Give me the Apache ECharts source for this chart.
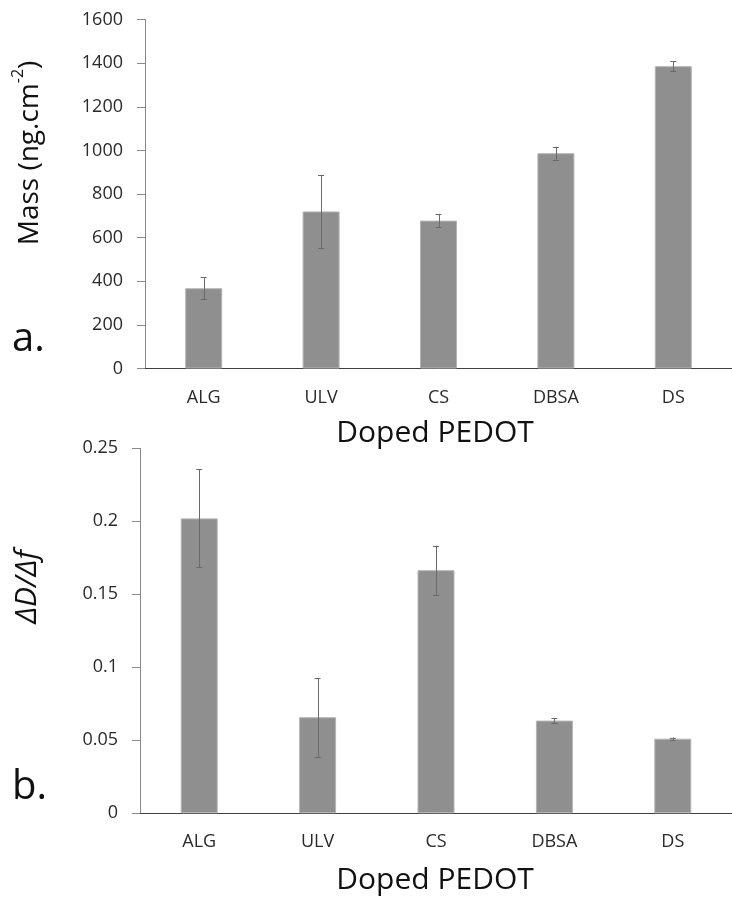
<!DOCTYPE html>
<html>
<head>
<meta charset="utf-8">
<script src="https://cdn.jsdelivr.net/npm/echarts@6/dist/echarts.min.js"></script>
<style>html,body{margin:0;padding:0;background:#fff;}#c{width:732px;height:897px;}</style>
</head>
<body>
<div id="c"></div>
<script>
const categories = ['ALG', 'ULV', 'CS', 'DBSA', 'DS'];
const massValues = [368, 720, 678, 987, 1386];
const massErrors = [50, 168, 31, 30, 22];
const ratioValues = [0.202, 0.0658, 0.1665, 0.0635, 0.0511];
const ratioErrors = [0.0335, 0.027, 0.0168, 0.0018, 0.0008];
const massAxis = { min: 0, max: 1600, interval: 200 };
const ratioAxis = { min: 0, max: 0.25, interval: 0.05 };

const FONT = '"Open Sans", "Noto Sans", sans-serif';
const chart = echarts.init(document.getElementById('c'), null, { renderer: 'canvas' });

function errData(vals, errs) {
  return vals.map((v, i) => [i, v - errs[i], v + errs[i]]);
}
function errRender(params, api) {
  const x = api.value(0);
  const lo = api.coord([x, api.value(1)]);
  const hi = api.coord([x, api.value(2)]);
  const cap = 3;
  const style = { stroke: '#6a6a6a', lineWidth: 1 };
  return {
    type: 'group',
    children: [
      { type: 'line', shape: { x1: Math.round(hi[0]) + 0.5, y1: hi[1], x2: Math.round(lo[0]) + 0.5, y2: lo[1] }, style },
      { type: 'line', shape: { x1: hi[0] - cap, y1: Math.round(hi[1]) + 0.5, x2: hi[0] + cap, y2: Math.round(hi[1]) + 0.5 }, style },
      { type: 'line', shape: { x1: lo[0] - cap, y1: Math.round(lo[1]) + 0.5, x2: lo[0] + cap, y2: Math.round(lo[1]) + 0.5 }, style }
    ]
  };
}

const xAxisCommon = {
  type: 'category',
  data: categories,
  axisLine: { lineStyle: { color: '#404040', width: 1 } },
  axisTick: { show: false },
  axisLabel: { fontFamily: FONT, fontSize: 18, color: '#2a2a2a', margin: 20 }
};
const yAxisCommon = {
  type: 'value',
  axisLine: { show: true, lineStyle: { color: '#8a8a8a', width: 1 } },
  axisTick: { show: true, length: 8, lineStyle: { color: '#8a8a8a' } },
  splitLine: { show: false },
  axisLabel: { fontFamily: FONT, fontSize: 18, color: '#2a2a2a', margin: 22, formatter: v => String(v) }
};
const barStyle = { color: '#8f8f8f', borderColor: '#b4b4b4', borderWidth: 1 };

chart.setOption({
  animation: false,
  backgroundColor: '#ffffff',
  grid: [
    { left: 145, right: -9.5, top: 19.5, bottom: 528.5 },
    { left: 140, right: -9, top: 448.3, bottom: 83.7 }
  ],
  xAxis: [
    Object.assign({ gridIndex: 0 }, xAxisCommon),
    Object.assign({ gridIndex: 1 }, xAxisCommon)
  ],
  yAxis: [
    Object.assign({ gridIndex: 0 }, yAxisCommon, massAxis),
    Object.assign({ gridIndex: 1 }, yAxisCommon, ratioAxis)
  ],
  series: [
    { type: 'bar', xAxisIndex: 0, yAxisIndex: 0, data: massValues, barWidth: 37, itemStyle: barStyle },
    { type: 'custom', xAxisIndex: 0, yAxisIndex: 0, data: errData(massValues, massErrors), renderItem: errRender, z: 10, encode: { x: 0, y: [1, 2] } },
    { type: 'bar', xAxisIndex: 1, yAxisIndex: 1, data: ratioValues, barWidth: 37, itemStyle: barStyle },
    { type: 'custom', xAxisIndex: 1, yAxisIndex: 1, data: errData(ratioValues, ratioErrors), renderItem: errRender, z: 10, encode: { x: 0, y: [1, 2] } }
  ],
  graphic: [
    { type: 'text', x: 27, y: 153, rotation: Math.PI / 2,
      style: { text: '{a|Mass (ng.cm}{s|-2}{a|)}', align: 'center', verticalAlign: 'middle',
        rich: { a: { fontFamily: FONT, fontSize: 28, fill: '#111', lineHeight: 34, verticalAlign: 'bottom' },
                s: { fontFamily: FONT, fontSize: 16, fill: '#111', lineHeight: 34, verticalAlign: 'top', padding: [0, 0, 14, 0] } } } },
    { type: 'text', x: 27, y: 587, rotation: Math.PI / 2,
      style: { text: 'ΔD/Δf', align: 'center', verticalAlign: 'middle', fontFamily: FONT, fontSize: 30, fontStyle: 'italic', fill: '#111' } },
    { type: 'text', x: 435, y: 433, style: { text: 'Doped PEDOT', align: 'center', verticalAlign: 'middle', fontFamily: FONT, fontSize: 30, fill: '#111' } },
    { type: 'text', x: 435, y: 880, style: { text: 'Doped PEDOT', align: 'center', verticalAlign: 'middle', fontFamily: FONT, fontSize: 30, fill: '#111' } },
    { type: 'text', x: 12, y: 340, style: { text: 'a.', align: 'left', verticalAlign: 'middle', fontFamily: FONT, fontSize: 40, fill: '#111' } },
    { type: 'text', x: 12, y: 788, style: { text: 'b.', align: 'left', verticalAlign: 'middle', fontFamily: FONT, fontSize: 40, fill: '#111' } }
  ]
});
</script>
</body>
</html>
